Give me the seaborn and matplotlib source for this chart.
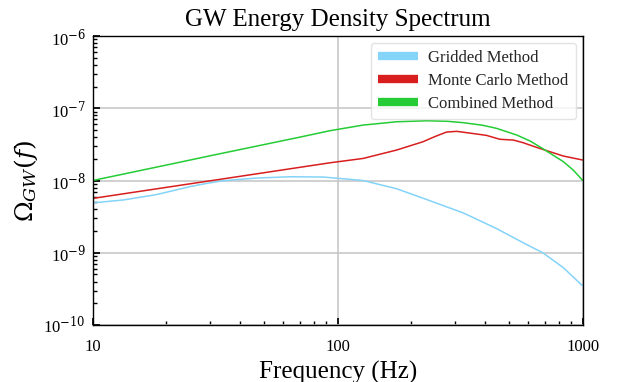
import numpy as np
import pandas as pd
import matplotlib
matplotlib.use("Agg")
import matplotlib.pyplot as plt
import seaborn as sns

# Frequencies (Hz) and Omega_GW values
freq_gridded = [10, 13.3, 18.2, 21.3, 24.9, 29.2, 34.1, 46.6, 63.8, 87.3, 127, 174, 238, 326, 445, 572, 687, 834, 1000]
omega_gridded = [4.90e-9, 5.37e-9, 6.38e-9, 7.24e-9, 8.22e-9, 9.12e-9, 9.93e-9, 1.081e-8, 1.127e-8, 1.117e-8,
                 1.0e-8, 7.69e-9, 5.25e-9, 3.55e-9, 2.16e-9, 1.374e-9, 1.0e-9, 6.21e-10, 3.47e-10]

freq_mc = [10, 20, 40, 60, 93, 127, 174, 223, 250, 278, 306, 369, 405, 459, 521, 572, 649, 736, 834, 1000]
omega_mc = [5.65e-9, 8.04e-9, 1.143e-8, 1.406e-8, 1.758e-8, 2.02e-8, 2.64e-8, 3.44e-8, 4.07e-8, 4.68e-8,
            4.79e-8, 4.40e-8, 4.21e-8, 3.72e-8, 3.63e-8, 3.33e-8, 2.87e-8, 2.50e-8, 2.18e-8, 1.92e-8]

freq_comb = [10, 20, 30, 50, 70, 93, 127, 174, 231, 280, 326, 390, 445, 538, 610, 702, 834, 916, 1000]
omega_comb = [1.0e-8, 1.637e-8, 2.19e-8, 3.14e-8, 3.98e-8, 4.89e-8, 5.85e-8, 6.50e-8, 6.71e-8, 6.60e-8,
              6.31e-8, 5.82e-8, 5.27e-8, 4.26e-8, 3.52e-8, 2.64e-8, 1.82e-8, 1.39e-8, 1.0e-8]

labels = ["Gridded Method", "Monte Carlo Method", "Combined Method"]
colors = ["#84D3F8", "#D81E1E", "#25CC35"]

df = pd.concat([
    pd.DataFrame({"f": freq_gridded, "omega": omega_gridded, "method": labels[0]}),
    pd.DataFrame({"f": freq_mc, "omega": omega_mc, "method": labels[1]}),
    pd.DataFrame({"f": freq_comb, "omega": omega_comb, "method": labels[2]}),
])

sns.set_theme(style="white")
plt.rcParams["font.family"] = ["Liberation Serif", "DejaVu Serif"]
plt.rcParams["mathtext.fontset"] = "dejavuserif"

fig = plt.figure(figsize=(6.19, 3.82), dpi=100)
ax = fig.add_axes([92.7 / 619, 1 - 325 / 382, (582.7 - 92.7) / 619, (325 - 36) / 382])

sns.lineplot(data=df, x="f", y="omega", hue="method", palette=dict(zip(labels, colors)),
             linewidth=1.1, ax=ax, sort=True, estimator=None)

ax.set_xscale("log")
ax.set_yscale("log")
ax.set_xlim(10, 1000)
ax.set_ylim(1e-10, 1e-6)
ax.grid(True, which="major", color="#c8c8c8", linewidth=1.2)
ax.set_axisbelow(True)
for s in ax.spines.values():
    s.set_color("black")
    s.set_linewidth(1.0)
ax.tick_params(which="both", direction="in", left=True, bottom=True, top=False, right=False,
               labelsize=12, colors="black", labelcolor="black")
ax.tick_params(axis="x", which="major", pad=10)
ax.tick_params(axis="y", which="major", pad=5)
ax.tick_params(which="major", length=5)
ax.tick_params(which="minor", length=3)
ax.set_xticks([10, 100, 1000])
ax.set_xticklabels(["10", "100", "1000"])
ax.set_yticks([1e-10, 1e-9, 1e-8, 1e-7, 1e-6])
ax.set_yticklabels([r"10$^{-10}$", r"10$^{-9}$", r"10$^{-8}$", r"10$^{-7}$", r"10$^{-6}$"])

ax.set_title("GW Energy Density Spectrum", fontsize=18, pad=7, color="black")
ax.set_xlabel("Frequency (Hz)", fontsize=18, labelpad=4, color="black")
ax.set_ylabel(r"$\Omega_{GW}(f)$", fontsize=18, labelpad=2, color="black")

leg = ax.legend(loc="upper right", fontsize=12, frameon=True, handlelength=2.4, handletextpad=0.6,
                borderpad=0.45, labelspacing=0.4, fancybox=True, bbox_to_anchor=(1.0, 1.0),
                borderaxespad=0.4)
leg.get_frame().set_edgecolor("#dddddd")
for line in leg.get_lines():
    line.set_linewidth(6)
    line.set_solid_capstyle("butt")

fig.savefig("out.png", dpi=100, facecolor="white")
